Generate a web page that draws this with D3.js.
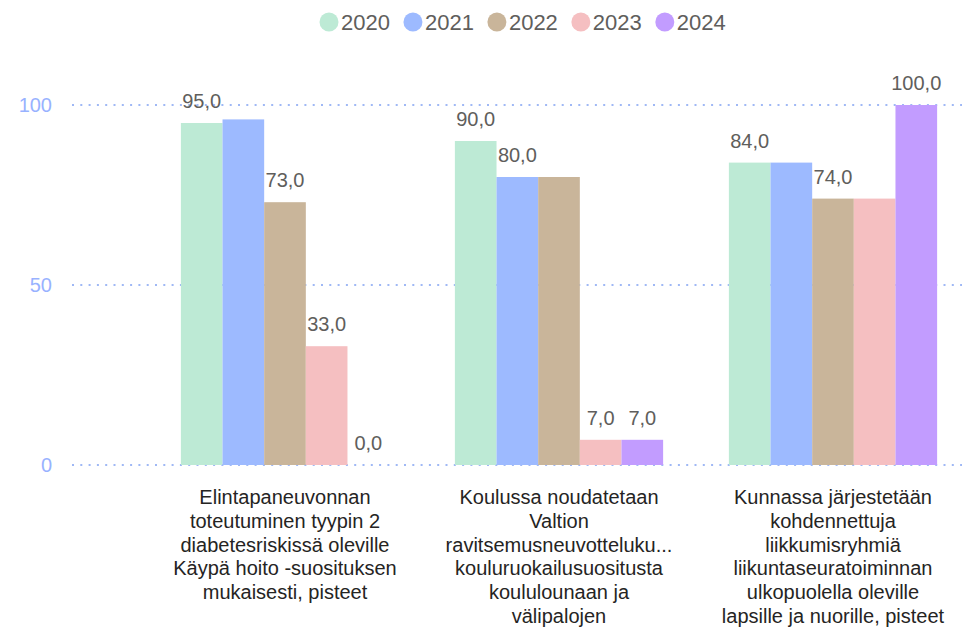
<!DOCTYPE html>
<html>
<head>
<meta charset="utf-8">
<script src="https://cdn.jsdelivr.net/npm/d3@7"></script>
<style>
  html, body { margin: 0; padding: 0; background: #fff; }
  svg { display: block; font-family: "Liberation Sans", Arial, sans-serif; }
</style>
</head>
<body>
<svg id="chart" width="964" height="628"></svg>
<script>
// Series years and colours
const years = ["2020", "2021", "2022", "2023", "2024"];
const colors = ["#BDEAD5", "#9DBAFF", "#C9B59A", "#F5BFC1", "#C29CFF"];

// Category names, one entry per wrapped line
const categories = [
  ["Elintapaneuvonnan", "toteutuminen tyypin 2", "diabetesriskissä oleville", "Käypä hoito -suosituksen", "mukaisesti, pisteet"],
  ["Koulussa noudatetaan", "Valtion", "ravitsemusneuvotteluku...", "kouluruokailusuositusta", "koululounaan ja", "välipalojen"],
  ["Kunnassa järjestetään", "kohdennettuja", "liikkumisryhmiä", "liikuntaseuratoiminnan", "ulkopuolella oleville", "lapsille ja nuorille, pisteet"]
];

// Values per year, one per category
const values2020 = [95, 90, 84];
const values2021 = [96, 80, 84];
const values2022 = [73, 80, 74];
const values2023 = [33, 7, 74];
const values2024 = [0, 7, 100];

// Which data labels are displayed
const labels2020 = [true, true, true];
const labels2021 = [false, true, false];
const labels2022 = [true, false, true];
const labels2023 = [true, true, false];
const labels2024 = [true, true, true];

const yTicks = [0, 50, 100];

const seriesValues = [values2020, values2021, values2022, values2023, values2024];
const seriesLabels = [labels2020, labels2021, labels2022, labels2023, labels2024];

const svg = d3.select("#chart");

const x0 = d3.scaleBand()
  .domain(d3.range(categories.length))
  .range([148, 970])
  .paddingInner(0.24)
  .paddingOuter(0.12);

const x1 = d3.scaleBand()
  .domain(years)
  .range([0, x0.bandwidth()])
  .padding(0);

const y = d3.scaleLinear().domain([0, 100]).range([465, 105]);

// Dotted gridlines
const grid = svg.append("g");
grid.selectAll("line")
  .data(yTicks)
  .join("line")
  .attr("x1", 72)
  .attr("x2", 962)
  .attr("y1", d => y(d))
  .attr("y2", d => y(d))
  .attr("stroke", "#9FB8F5")
  .attr("stroke-width", 2)
  .attr("stroke-dasharray", "2,6.3");

// Y axis labels
const yAxis = svg.append("g")
  .attr("transform", "translate(52,0)")
  .call(d3.axisLeft(y).tickValues(yTicks).tickSize(0).tickPadding(0).tickFormat(d3.format("d")));
yAxis.select(".domain").remove();
yAxis.selectAll("text")
  .attr("fill", "#98B2FF")
  .style("font-size", "20px")
  .style("font-family", "'Liberation Sans', Arial, sans-serif");

// Bars
const rows = [];
categories.forEach((c, ci) => {
  years.forEach((yr, si) => {
    rows.push({ ci, yr, si, v: seriesValues[si][ci], show: seriesLabels[si][ci] });
  });
});

svg.append("g").selectAll("rect")
  .data(rows)
  .join("rect")
  .attr("x", d => x0(d.ci) + x1(d.yr))
  .attr("y", d => y(d.v))
  .attr("width", x1.bandwidth())
  .attr("height", d => y(0) - y(d.v))
  .attr("fill", d => colors[d.si]);

// Data labels
const fmt = v => d3.format(".1f")(v).replace(".", ",");
svg.append("g").selectAll("text")
  .data(rows.filter(d => d.show))
  .join("text")
  .attr("x", d => x0(d.ci) + x1(d.yr) + x1.bandwidth() / 2)
  .attr("y", d => y(d.v) - 15)
  .attr("text-anchor", "middle")
  .attr("fill", "#605E5C")
  .style("font-size", "20px")
  .text(d => fmt(d.v));

// Category labels
const catG = svg.append("g");
categories.forEach((lines, ci) => {
  const cx = x0(ci) + x0.bandwidth() / 2;
  const t = catG.append("text")
    .attr("x", cx)
    .attr("y", 504)
    .attr("text-anchor", "middle")
    .attr("fill", "#252423")
    .style("font-size", "20px");
  lines.forEach((ln, i) => {
    t.append("tspan")
      .attr("x", cx)
      .attr("dy", i === 0 ? 0 : 23.8)
      .text(ln);
  });
});

// Legend
const legend = svg.append("g");
let lx = 319;
years.forEach((yr, i) => {
  legend.append("circle")
    .attr("cx", lx + 10)
    .attr("cy", 22)
    .attr("r", 9.5)
    .attr("fill", colors[i]);
  const t = legend.append("text")
    .attr("x", lx + 22)
    .attr("y", 30)
    .attr("fill", "#605E5C")
    .style("font-size", "22px")
    .text(yr);
  lx += 22 + t.node().getComputedTextLength() + 13;
});
</script>
</body>
</html>
